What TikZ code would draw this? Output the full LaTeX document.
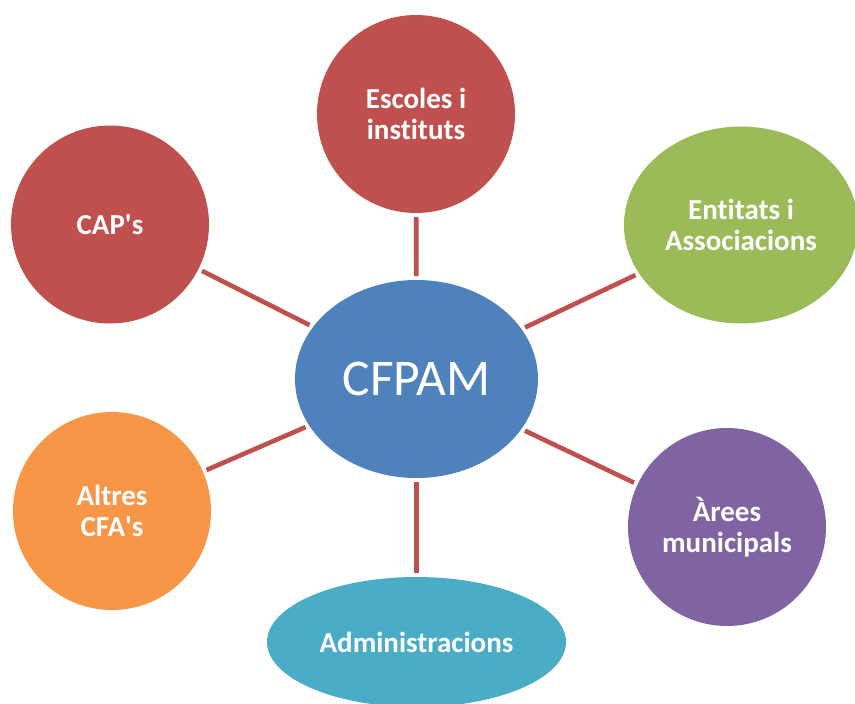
\documentclass[tikz,border=0pt]{standalone}
\usepackage{fontspec}
\setmainfont{Carlito}[Ligatures={NoCommon}]
\usetikzlibrary{shapes.geometric}
\definecolor{cred}{HTML}{C0504D}
\definecolor{cgreen}{HTML}{9BBB59}
\definecolor{cblue}{HTML}{4F81BD}
\definecolor{cpurple}{HTML}{8064A2}
\definecolor{corange}{HTML}{F79646}
\definecolor{cteal}{HTML}{4BACC6}
\begin{document}
\begin{tikzpicture}[x=1pt,y=-1pt,
  bubtext/.style={text=white, align=center, inner sep=0pt, outer sep=0pt,
    font=\fontsize{29}{31.5}\selectfont\bfseries},
  bub/.style={bubtext, circle, minimum size=198pt},
  ell/.style={bubtext, ellipse},
  link/.style={draw=cred, line width=4.6pt, shorten <=4pt, shorten >=4pt}]
\useasboundingbox (0,0) rectangle (855,704);
\begin{scope}
\clip (0,0) rectangle (855,704);
\node[ell, fill=cblue, minimum width=243pt, minimum height=198pt,
      font=\fontsize{51.5}{55}\selectfont] (c) at (416.5,379) {CFPAM};
\node[bub, fill=cred] (esc) at (416,114) {Escoles i\\instituts};
\node[bub, fill=cred] (cap) at (110,224.5) {CAP\textquotesingle s};
\node[ell, fill=cgreen, minimum width=234pt, minimum height=197pt] (ent) at (741,225) {Entitats i\\Associacions};
\node[bub, fill=corange] (alt) at (112,511) {Altres\\CFA\textquotesingle s};
\node[bub, fill=cpurple] (are) at (727,527) {Àrees\\municipals};
\node[ell, fill=cteal, minimum width=299pt, minimum height=130pt] (adm) at (416.5,642) {Administracions};
\end{scope}
\draw[link] (c) -- (esc);
\draw[link] (c) -- (cap);
\draw[link] (c) -- (ent);
\draw[link] (c) -- (alt);
\draw[link] (c) -- (are);
\draw[link] (c) -- (adm);
\end{tikzpicture}
\end{document}
